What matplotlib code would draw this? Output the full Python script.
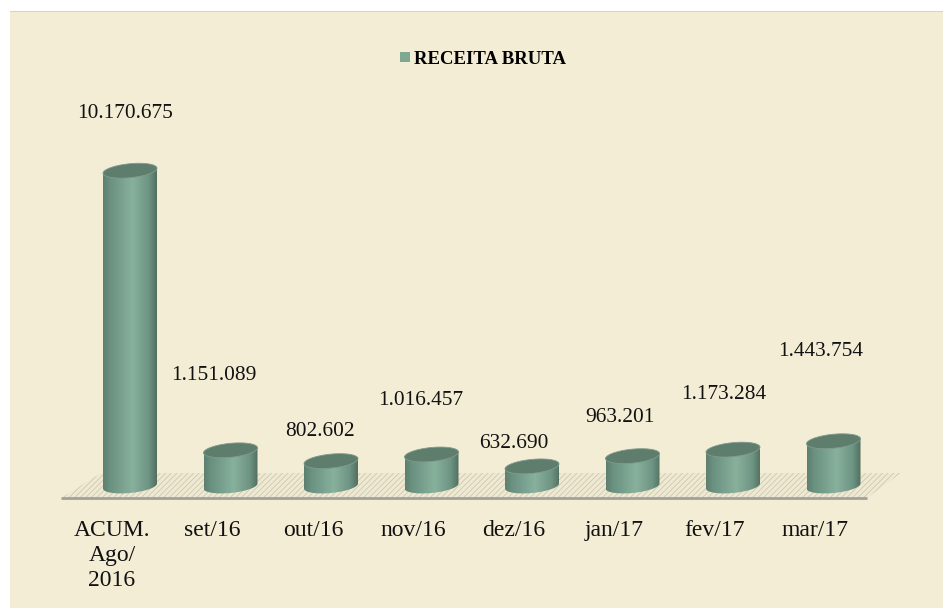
import numpy as np
import matplotlib
matplotlib.use("Agg")
import matplotlib.pyplot as plt
from matplotlib.colors import LinearSegmentedColormap
from matplotlib.patches import Patch, PathPatch, Polygon, Rectangle
from matplotlib.path import Path

plt.rcParams["font.family"] = ["Liberation Serif", "DejaVu Serif"]
plt.rcParams["hatch.linewidth"] = 0.5

W, H = 943, 608

# --- Data ---
categories = ["ACUM.\nAgo/\n2016", "set/16", "out/16", "nov/16",
              "dez/16", "jan/17", "fev/17", "mar/17"]
values = [10170675, 1151089, 802602, 1016457, 632690, 963201, 1173284, 1443754]
series_name = "RECEITA BRUTA"

# label offset from the top of each cylinder, in pixels
label_dx = [-5, -17, -11, -11, -18, -13, -9, -13]
label_dy = [57, 75, 30, 54, 23, 39, 55, 90]

# --- Layout (pixels) ---
step_px = 100.5
value_px = 31e-6      # pixels per unit of value
first_x = 130
base_y = 486
left, right, top, bottom = 61, 867, 12, 498
half_w, half_h, tilt = 27, 7, 2.5

fig = plt.figure(figsize=(W / 100, H / 100), dpi=100, facecolor="white")
fig.patches.append(Rectangle((10 / W, 0), 1.01 - 10 / W, 1 - 12 / H, transform=fig.transFigure,
                             facecolor="#F3EDD5", edgecolor="none", zorder=-2))
fig.patches.append(Rectangle((10 / W, 1 - 12 / H), 1.01 - 10 / W, 1.5 / H, transform=fig.transFigure,
                             facecolor="#D5D3CC", edgecolor="none", zorder=-2))

ax = fig.add_axes([left / W, 1 - bottom / H, (right - left) / W, (bottom - top) / H])
ax.patch.set_alpha(0)
xmin = (left - first_x) / step_px
xmax = (right - first_x) / step_px
ymin = -(bottom - base_y) / value_px
ymax = (base_y - top) / value_px


def to_x(px):
    return px / step_px


def to_y(px):
    return px / value_px


# --- Floor ---
floor_x = [to_x(p - first_x) for p in (61, 101, 901, 867)]
floor_y = [to_y(base_y - p) for p in (498, 473, 473, 498)]
ax.add_patch(Polygon(list(zip(floor_x, floor_y)), closed=True, facecolor="#EFE9D2",
                     edgecolor="#C6C2AE", hatch="//////", linewidth=0, clip_on=False, zorder=1))
ax.plot([xmin, xmax], [ymin, ymin], color="#A3A199", lw=2.0, clip_on=False,
        solid_capstyle="butt", zorder=2)

# --- Cylinders ---
side_cmap = LinearSegmentedColormap.from_list(
    "side", [(0, "#5D7F6E"), (0.12, "#6A9080"), (0.55, "#88B19D"),
             (0.85, "#6E9483"), (1, "#526F60")])
gradient = np.linspace(0, 1, 128).reshape(1, -1)
t = np.linspace(0, 2 * np.pi, 90)

for i, v in enumerate(values):
    ex = to_x(half_w * np.cos(t))
    ey = to_y(half_h * np.sin(t) + tilt * np.cos(t))

    # side: lower half of the base ellipse, then back along the upper rim
    lower = t[t >= np.pi]
    bx = to_x(half_w * np.cos(lower)) + i
    by = to_y(half_h * np.sin(lower) + tilt * np.cos(lower))
    side_x = np.concatenate([bx, [bx[-1], bx[0]]])
    side_y = np.concatenate([by, [by[-1] + v, by[0] + v]])
    im = ax.imshow(gradient, cmap=side_cmap, aspect="auto", zorder=3,
                   extent=(i - to_x(half_w), i + to_x(half_w), ymin, ymax))
    clip = PathPatch(Path(np.column_stack([side_x, side_y]), closed=False),
                     transform=ax.transData, facecolor="none", edgecolor="none")
    ax.add_patch(clip)
    im.set_clip_path(clip)

    ax.fill(i + ex, v + ey, facecolor="#5E7D6C", edgecolor="#7F9C8D", lw=0.6, zorder=4)

    ax.annotate(f"{v:,}".replace(",", "."), xy=(i, v), xytext=(label_dx[i], label_dy[i]),
                textcoords="offset pixels", ha="center", va="center", fontsize=15.4,
                color="#111111", zorder=5, annotation_clip=False)

ax.set_xlim(xmin, xmax)
ax.set_ylim(ymin, ymax)

# --- Axis and legend ---
ax.set_xticks(np.arange(len(categories)) - 0.18, categories)
ax.set_yticks([])
ax.tick_params(axis="x", length=0, labelsize=17, pad=15.5, labelcolor="#111111")
for lab in ax.get_xticklabels():
    lab.set_linespacing(1.28)
for s in ax.spines.values():
    s.set_visible(False)

ax.legend(handles=[Patch(facecolor="#7FA893", edgecolor="none", label=series_name)],
          loc="center", bbox_to_anchor=(483 / W, 1 - 59 / H), bbox_transform=fig.transFigure,
          frameon=False, ncol=1, handlelength=0.55, handleheight=0.5, handletextpad=0.2,
          prop={"weight": "bold", "size": 13.5})

fig.savefig("out.png", dpi=100, facecolor=fig.get_facecolor())
